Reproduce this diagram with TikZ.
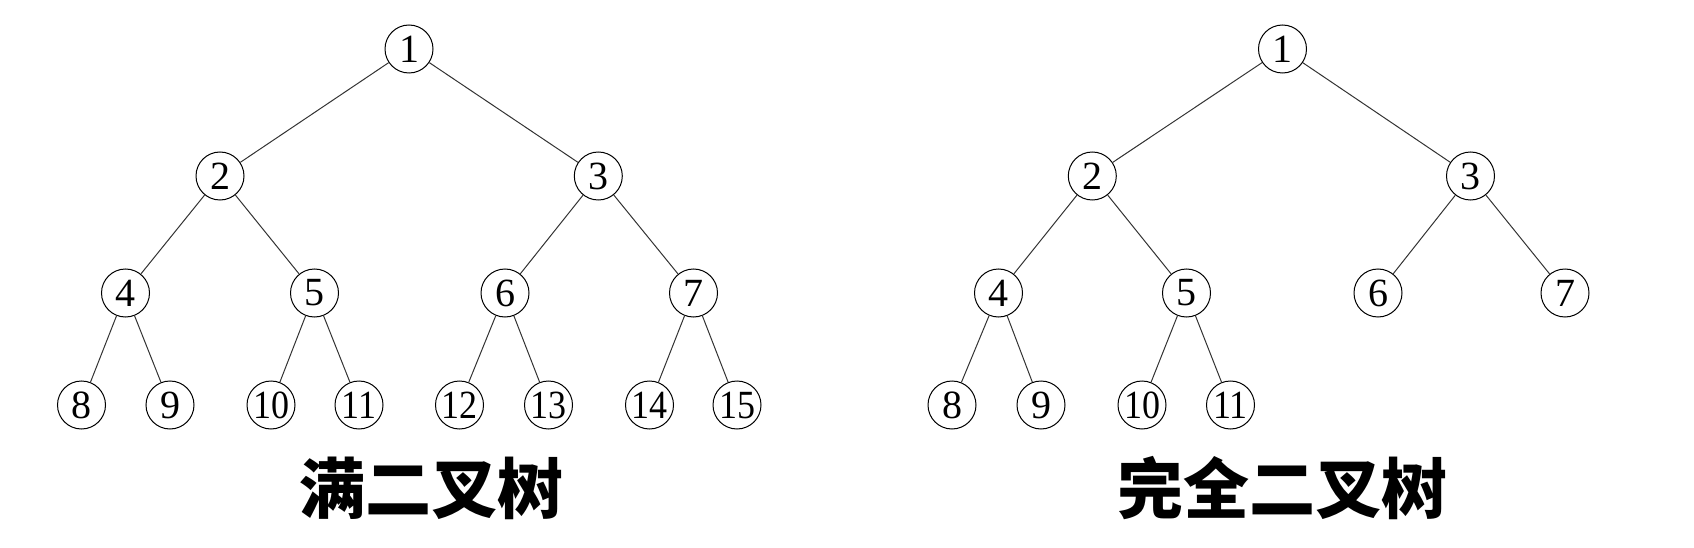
\documentclass[tikz,border=0pt]{standalone}
\usepackage{fontspec}
\setmainfont{Liberation Serif}
\newfontfamily\cjk{Noto Sans CJK SC}
\begin{document}
\begin{tikzpicture}[x=1pt,y=-1pt,
  tn/.style={circle,draw=black,line width=1pt,minimum size=48pt,inner sep=0pt,
    font=\fontsize{40}{40}\selectfont},
  edge/.style={draw=black!80,line width=1pt},
  title/.style={font=\cjk\bfseries\fontsize{66}{66}\selectfont,inner sep=0pt}]
\useasboundingbox (0,0) rectangle (1694,548);
% left tree
\node[tn] (a1) at (409,49) {1};
\node[tn] (a2) at (220,176) {2};
\node[tn] (a3) at (598.3,176) {3};
\node[tn] (a4) at (125.5,293) {4};
\node[tn] (a5) at (314.5,293) {5};
\node[tn] (a6) at (505,293) {6};
\node[tn] (a7) at (693.5,293) {7};
\node[tn] (a8) at (81.5,405) {8};
\node[tn] (a9) at (170,405) {9};
\node[tn] (a10) at (271,405) {\scalebox{0.9}[1]{10}};
\node[tn] (a11) at (359,405) {\scalebox{0.9}[1]{11}};
\node[tn] (a12) at (459.5,405) {\scalebox{0.9}[1]{12}};
\node[tn] (a13) at (548.5,405) {\scalebox{0.9}[1]{13}};
\node[tn] (a14) at (649.5,405) {\scalebox{0.9}[1]{14}};
\node[tn] (a15) at (737,405) {\scalebox{0.9}[1]{15}};
\foreach \p/\c in {1/2,1/3,2/4,2/5,3/6,3/7,4/8,4/9,5/10,5/11,6/12,6/13,7/14,7/15}
  \draw[edge] (a\p) -- (a\c);
\node[title] (t1) at (431,488) {满二叉树};
% right tree
\node[tn] (b1) at (1282.5,49) {1};
\node[tn] (b2) at (1092.3,176) {2};
\node[tn] (b3) at (1470.5,176) {3};
\node[tn] (b4) at (998.5,293) {4};
\node[tn] (b5) at (1186.5,293) {5};
\node[tn] (b6) at (1378,293) {6};
\node[tn] (b7) at (1565,293) {7};
\node[tn] (b8) at (952,405) {8};
\node[tn] (b9) at (1041,405) {9};
\node[tn] (b10) at (1142,405) {\scalebox{0.9}[1]{10}};
\node[tn] (b11) at (1230.5,405) {\scalebox{0.9}[1]{11}};
\foreach \p/\c in {1/2,1/3,2/4,2/5,3/6,3/7,4/8,4/9,5/10,5/11}
  \draw[edge] (b\p) -- (b\c);
\node[title] (t2) at (1282,488) {完全二叉树};
\end{tikzpicture}
\end{document}
